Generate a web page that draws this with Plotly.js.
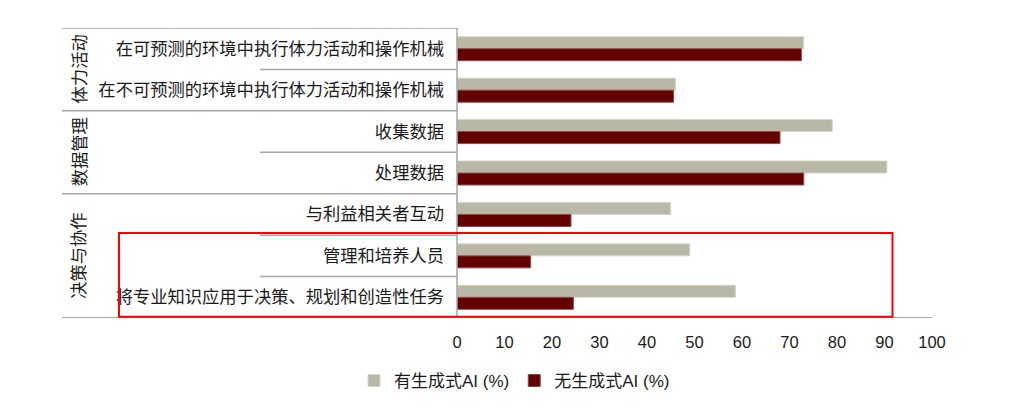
<!DOCTYPE html>
<html>
<head>
<meta charset="utf-8">
<script src="https://cdn.plot.ly/plotly-3.0.1.min.js"></script>
<style>html,body{margin:0;padding:0;background:#fff;}#chart{width:1016px;height:411px;}</style>
</head>
<body>
<div id="chart"></div>
<script>
// ---- data ----
var categories = [
  '在可预测的环境中执行体力活动和操作机械',
  '在不可预测的环境中执行体力活动和操作机械',
  '收集数据',
  '处理数据',
  '与利益相关者互动',
  '管理和培养人员',
  '将专业知识应用于决策、规划和创造性任务'
];
var withGenAI = [73, 46, 79, 90.5, 45, 49, 58.6];
var withoutGenAI = [72.5, 45.6, 68, 73, 24, 15.5, 24.5];
var seriesNames = ['有生成式AI (%)', '无生成式AI (%)'];
var groupNames = ['体力活动', '数据管理', '决策与协作'];
var groupStart = [0, 2, 4];
var groupEnd = [1, 3, 6];
var xTicks = [0, 10, 20, 30, 40, 50, 60, 70, 80, 90, 100];
var highlightStart = 5; // first highlighted category index
var highlightEnd = 6;   // last highlighted category index

var FONT = '"Liberation Sans", Arial, "Noto Sans CJK SC", sans-serif';
var CJK = '"Noto Sans CJK SC", "Liberation Sans", sans-serif';
var lineColor = '#a6a6a6';

var idx = categories.map(function(_, i){ return i; });

var traces = [
  {type:'bar', orientation:'h', name:seriesNames[0], y:idx, x:withGenAI,
   marker:{color:'#b9b8a6', line:{color:'#d6d5ca', width:1}}},
  {type:'bar', orientation:'h', name:seriesNames[1], y:idx, x:withoutGenAI,
   marker:{color:'#640000', line:{color:'#8a4a4a', width:1}}}
];

var shapes = [];
var leftEdge = (62 - 457) / 475;
var itemLeft = (260 - 457) / 475;
shapes.push({type:'line', xref:'paper', yref:'y', x0:leftEdge, x1:0, y0:-0.5, y1:-0.5, line:{color:lineColor, width:1.5}});
for (var g = 0; g < groupNames.length - 1; g++) {
  var yy = groupEnd[g] + 0.5;
  shapes.push({type:'line', xref:'paper', yref:'y', x0:leftEdge, x1:0, y0:yy, y1:yy, line:{color:lineColor, width:1.5}});
}
for (var g2 = 0; g2 < groupNames.length; g2++) {
  for (var k = groupStart[g2]; k < groupEnd[g2]; k++) {
    shapes.push({type:'line', xref:'paper', yref:'y', x0:itemLeft, x1:0, y0:k+0.5, y1:k+0.5, line:{color:lineColor, width:1.5}});
  }
}
shapes.push({type:'line', xref:'paper', yref:'y', x0:leftEdge, x1:1, y0:categories.length-0.5, y1:categories.length-0.5, line:{color:lineColor, width:2}});
shapes.push({type:'line', xref:'paper', yref:'y', x0:0, x1:0, y0:-0.5, y1:categories.length-0.5, line:{color:lineColor, width:1.5}});
shapes.push({type:'rect', xref:'paper', yref:'y', x0:(119-457)/475, x1:(892.5-457)/475,
  y0:highlightStart-0.55, y1:highlightEnd+0.47, line:{color:'#ff0000', width:2}, fillcolor:'rgba(0,0,0,0)'});

var annotations = groupNames.map(function(name, i){
  return {xref:'paper', yref:'y', x:(78-457)/475, y:(groupStart[i]+groupEnd[i])/2,
    text:name, textangle:-90, showarrow:false, xanchor:'center', yanchor:'middle',
    font:{family:CJK, size:17.3, color:'#1a1a1a'}};
});

var layout = {
  width:1016, height:411,
  margin:{l:457, r:84, t:28, b:93, pad:0},
  paper_bgcolor:'#fff', plot_bgcolor:'#fff',
  barmode:'group', bargap:0.42, bargroupgap:0,
  font:{family:FONT, size:16, color:'#1a1a1a'},
  xaxis:{range:[0,100], tickvals:xTicks, ticktext:xTicks.map(String), showgrid:false, zeroline:false,
    showline:false, ticks:'', tickfont:{family:FONT, size:16.5, color:'#1a1a1a'}, ticklabelstandoff:12, fixedrange:true},
  yaxis:{range:[categories.length-0.5, -0.5], tickvals:idx, ticktext:categories, showgrid:false, zeroline:false,
    showline:false, ticks:'', ticklabelstandoff:12, tickfont:{family:CJK, size:17.3, color:'#1a1a1a'}, fixedrange:true},
  legend:{orientation:'h', x:(354-457)/475, xanchor:'left', y:-0.155, yanchor:'top',
    font:{family:FONT, size:17, color:'#1a1a1a'}, itemwidth:30, traceorder:'normal'},
  shapes:shapes, annotations:annotations
};

Plotly.newPlot('chart', traces, layout, {displayModeBar:false, staticPlot:true});
</script>
</body>
</html>
